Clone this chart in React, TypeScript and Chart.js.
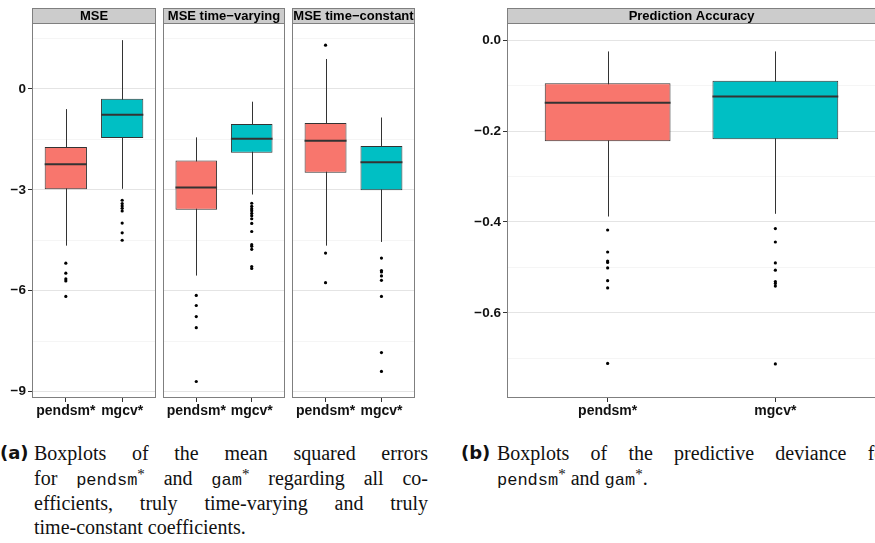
import React, { useEffect, useRef } from 'react';
import { Chart, registerables } from 'chart.js';

Chart.register(...registerables);

const METHODS = ['pendsm*', 'mgcv*'];
const FILL_COLORS = ['#F8766D', '#00BFC4'];

// Five-number summaries: [lower whisker, Q1, median, Q3, upper whisker]
const MSE_ALL_PENDSM = [-4.66, -2.98, -2.24, -1.73, -0.6];
const MSE_ALL_MGCV = [-2.97, -1.46, -0.77, -0.29, 1.45];
const MSE_ALL_PENDSM_OUT = [-5.18, -5.48, -5.65, -5.71, -6.17];
const MSE_ALL_MGCV_OUT = [-3.31, -3.41, -3.48, -3.55, -3.63, -3.99, -4.28, -4.5];

const MSE_TV_PENDSM = [-5.55, -3.59, -2.93, -2.13, -1.44];
const MSE_TV_MGCV = [-3.14, -1.9, -1.48, -1.04, -0.38];
const MSE_TV_PENDSM_OUT = [-6.14, -6.44, -6.77, -7.1, -8.7];
const MSE_TV_MGCV_OUT = [-3.4, -3.49, -3.56, -3.62, -3.7, -3.77, -3.86, -4.0, -4.24, -4.63, -4.68, -4.77, -5.28, -5.34];

const MSE_TC_PENDSM = [-4.66, -2.49, -1.54, -1.01, 0.89];
const MSE_TC_MGCV = [-4.55, -3.01, -2.18, -1.7, -0.85];
const MSE_TC_PENDSM_OUT = [1.3, -4.88, -5.76];
const MSE_TC_MGCV_OUT = [-5.03, -5.4, -5.44, -5.56, -5.69, -6.17, -7.84, -8.4];

const PRED_PENDSM = [-0.388, -0.2227, -0.1376, -0.0948, -0.025];
const PRED_MGCV = [-0.382, -0.218, -0.124, -0.0897, -0.025];
const PRED_PENDSM_OUT = [-0.4176, -0.466, -0.486, -0.489, -0.501, -0.529, -0.545, -0.711];
const PRED_MGCV_OUT = [-0.4146, -0.444, -0.49, -0.506, -0.531, -0.535, -0.541, -0.712];

const MSE_RANGE: [number, number] = [-9.19, 1.96];
const PRED_RANGE: [number, number] = [-0.787, 0.0375];
const MSE_MAJOR_TICKS = [0, -3, -6, -9];
const MSE_MINOR_TICKS = [1.5, -1.5, -4.5, -7.5];
const PRED_MAJOR_TICKS = [0, -0.2, -0.4, -0.6];
const PRED_MINOR_TICKS = [-0.1, -0.3, -0.5, -0.7];

const FACET_TITLES = ['MSE', 'MSE time−varying', 'MSE time−constant'];
const PRED_TITLE = 'Prediction Accuracy';

const SANS = '"Liberation Sans", Arial, Helvetica, sans-serif';
const SERIF = '"Liberation Serif", "Times New Roman", serif';
const MONO = '"Liberation Mono", "DejaVu Sans Mono", monospace';

const CANVAS_H = 420;
const STRIP_TOP = 8;
const AREA_TOP = 23;
const AREA_BOTTOM = 398;

const fmtInt = (v: number) => (v < 0 ? '−' + Math.abs(v) : String(v));
const fmtDec = (v: number) => (v < 0 ? '−' : '') + Math.abs(v).toFixed(1);

type Geometry = { left: number; width: number; padLeft: number; padRight: number; axisWidth: number };

type PanelProps = {
  title: string;
  stats: number[][];
  outliers: number[][];
  yRange: [number, number];
  major: number[];
  minor: number[];
  format: (v: number) => string;
  showY: boolean;
  geo: Geometry;
};

function BoxPanel(p: PanelProps) {
  const ref = useRef<HTMLCanvasElement>(null);

  useEffect(() => {
    const canvas = ref.current;
    if (!canvas) return;
    const isMajor = (v: number) => p.major.some((m) => Math.abs(m - v) < 1e-9);
    const tickValues = [...p.major, ...p.minor].sort((a, b) => b - a);

    const boxData = p.stats.map((s, i) => ({ x: i + 1, y: [s[1], s[3]] }));
    const outlierData = p.outliers.flatMap((vals, i) => vals.map((v) => ({ x: i + 1, y: v })));

    // whiskers underneath the boxes, medians on top of them
    const boxplot = {
      id: 'boxplotParts',
      beforeDatasetsDraw(chart: any) {
        const { ctx } = chart;
        const y = chart.scales.y;
        const bars = chart.getDatasetMeta(0).data;
        ctx.save();
        ctx.strokeStyle = '#333333';
        ctx.lineWidth = 1;
        bars.forEach((bar: any, i: number) => {
          const s = p.stats[i];
          const x = Math.round(bar.x) + 0.5;
          ctx.beginPath();
          ctx.moveTo(x, y.getPixelForValue(s[0]));
          ctx.lineTo(x, y.getPixelForValue(s[4]));
          ctx.stroke();
        });
        ctx.restore();
      },
      afterDatasetsDraw(chart: any) {
        const { ctx } = chart;
        const y = chart.scales.y;
        const bars = chart.getDatasetMeta(0).data;
        ctx.save();
        ctx.strokeStyle = '#333333';
        ctx.lineWidth = 2;
        bars.forEach((bar: any, i: number) => {
          const yy = y.getPixelForValue(p.stats[i][2]);
          ctx.beginPath();
          ctx.moveTo(bar.x - bar.width / 2, yy);
          ctx.lineTo(bar.x + bar.width / 2, yy);
          ctx.stroke();
        });
        ctx.restore();
      },
    };

    // panel border and facet strip
    const facetFrame = {
      id: 'facetFrame',
      afterDraw(chart: any) {
        const { ctx, chartArea: a } = chart;
        ctx.save();
        ctx.fillStyle = '#cccccc';
        ctx.fillRect(a.left, STRIP_TOP, a.right - a.left, a.top - STRIP_TOP);
        ctx.strokeStyle = '#7f7f7f';
        ctx.lineWidth = 1;
        ctx.strokeRect(a.left + 0.5, STRIP_TOP + 0.5, a.right - a.left - 1, a.top - STRIP_TOP);
        ctx.strokeRect(a.left + 0.5, a.top + 0.5, a.right - a.left - 1, a.bottom - a.top - 1);
        ctx.fillStyle = '#000000';
        ctx.font = `bold 13px ${SANS}`;
        ctx.textAlign = 'center';
        ctx.textBaseline = 'middle';
        ctx.fillText(p.title, (a.left + a.right) / 2, (STRIP_TOP + a.top) / 2 + 1);
        ctx.restore();
      },
    };

    const chart = new Chart(canvas, {
      type: 'bar',
      data: {
        datasets: [
          {
            type: 'bar',
            data: boxData as any,
            backgroundColor: FILL_COLORS,
            borderColor: '#333333',
            borderWidth: 1,
            borderSkipped: false,
            barPercentage: 0.75,
            categoryPercentage: 1,
            grouped: false,
            order: 2,
          } as any,
          {
            type: 'scatter',
            data: outlierData,
            pointRadius: 1.6,
            pointBackgroundColor: '#000000',
            pointBorderWidth: 0,
            order: 1,
          } as any,
        ],
      },
      options: {
        animation: false,
        responsive: false,
        events: [],
        layout: { padding: { top: AREA_TOP, left: p.geo.padLeft, right: p.geo.padRight, bottom: 0 } },
        plugins: { legend: { display: false }, tooltip: { enabled: false }, title: { display: false } },
        scales: {
          x: {
            type: 'linear',
            min: 0.4,
            max: 2.6,
            offset: false,
            afterBuildTicks: (s: any) => {
              s.ticks = METHODS.map((_, i) => ({ value: i + 1 }));
            },
            afterFit: (s: any) => {
              s.height = CANVAS_H - AREA_BOTTOM;
            },
            ticks: {
              callback: (v: any) => METHODS[Math.round(v) - 1],
              font: { family: SANS, size: 14, weight: 'bold' },
              color: '#111111',
              padding: 1,
              maxRotation: 0,
              autoSkip: false,
            },
            grid: { offset: false, drawOnChartArea: false, tickLength: 4, tickColor: '#333333' },
            border: { display: false },
          },
          y: {
            type: 'linear',
            min: p.yRange[0],
            max: p.yRange[1],
            afterBuildTicks: (s: any) => {
              s.ticks = tickValues.map((v) => ({ value: v }));
            },
            afterFit: (s: any) => {
              s.width = p.geo.axisWidth;
            },
            ticks: {
              display: p.showY,
              callback: (v: any) => (isMajor(v) ? p.format(v) : ''),
              font: { family: SANS, size: 13.5, weight: 'bold' },
              color: '#111111',
              padding: 2,
              autoSkip: false,
            },
            grid: {
              color: (c: any) => (isMajor(c.tick.value) ? '#e4e4e4' : '#f5f5f5'),
              tickColor: (c: any) => (isMajor(c.tick.value) ? '#333333' : 'rgba(0,0,0,0)'),
              tickLength: 4,
              drawTicks: p.showY,
              lineWidth: 1,
            },
            border: { display: false },
          },
        },
      } as any,
      plugins: [boxplot, facetFrame],
    });
    return () => chart.destroy();
  }, []);

  return (
    <canvas
      ref={ref}
      width={p.geo.width}
      height={CANVAS_H}
      style={{ position: 'absolute', left: p.geo.left, top: 0, width: p.geo.width, height: CANVAS_H, display: 'block' }}
    />
  );
}

const lineStyle = (left: number, top: number, justify: boolean): React.CSSProperties => ({
  position: 'absolute',
  left,
  top,
  width: 394,
  fontFamily: SERIF,
  fontSize: 20,
  lineHeight: '24px',
  color: '#111111',
  whiteSpace: 'nowrap',
  textAlign: justify ? 'justify' : 'left',
  textAlignLast: justify ? 'justify' : 'auto',
});

const labelStyle = (left: number, top: number): React.CSSProperties => ({
  position: 'absolute',
  left,
  top,
  fontFamily: '"DejaVu Sans", sans-serif',
  fontWeight: 'bold',
  fontSize: 18,
  lineHeight: '24px',
  color: '#111111',
});

const Tt = ({ children }: { children: string }) => (
  <span style={{ fontFamily: MONO, fontSize: 17 }}>{children}</span>
);
const Star = () => <span style={{ position: 'relative', top: -6, fontSize: 15 }}>*</span>;

export default function App() {
  const lines = [441, 466, 490.5, 515];
  return (
    <div
      style={{
        position: 'absolute',
        left: 0,
        top: 0,
        width: 875,
        height: 543,
        overflow: 'hidden',
        background: '#ffffff',
      }}
    >
      <BoxPanel
        title={FACET_TITLES[0]}
        stats={[MSE_ALL_PENDSM, MSE_ALL_MGCV]}
        outliers={[MSE_ALL_PENDSM_OUT, MSE_ALL_MGCV_OUT]}
        yRange={MSE_RANGE}
        major={MSE_MAJOR_TICKS}
        minor={MSE_MINOR_TICKS}
        format={fmtInt}
        showY={true}
        geo={{ left: 0, width: 160, padLeft: 0, padRight: 2, axisWidth: 32 }}
      />
      <BoxPanel
        title={FACET_TITLES[1]}
        stats={[MSE_TV_PENDSM, MSE_TV_MGCV]}
        outliers={[MSE_TV_PENDSM_OUT, MSE_TV_MGCV_OUT]}
        yRange={MSE_RANGE}
        major={MSE_MAJOR_TICKS}
        minor={MSE_MINOR_TICKS}
        format={fmtInt}
        showY={false}
        geo={{ left: 159, width: 130, padLeft: 2, padRight: 2, axisWidth: 0 }}
      />
      <BoxPanel
        title={FACET_TITLES[2]}
        stats={[MSE_TC_PENDSM, MSE_TC_MGCV]}
        outliers={[MSE_TC_PENDSM_OUT, MSE_TC_MGCV_OUT]}
        yRange={MSE_RANGE}
        major={MSE_MAJOR_TICKS}
        minor={MSE_MINOR_TICKS}
        format={fmtInt}
        showY={false}
        geo={{ left: 288, width: 131, padLeft: 2, padRight: 2, axisWidth: 0 }}
      />
      <BoxPanel
        title={PRED_TITLE}
        stats={[PRED_PENDSM, PRED_MGCV]}
        outliers={[PRED_PENDSM_OUT, PRED_MGCV_OUT]}
        yRange={PRED_RANGE}
        major={PRED_MAJOR_TICKS}
        minor={PRED_MINOR_TICKS}
        format={fmtDec}
        showY={true}
        geo={{ left: 440, width: 440, padLeft: 0, padRight: 2, axisWidth: 67 }}
      />

      <div style={labelStyle(0, lines[0])}>(a)</div>
      <div style={lineStyle(34, lines[0], true)}>Boxplots of the mean squared errors</div>
      <div style={lineStyle(34, lines[1], true)}>
        for <Tt>pendsm</Tt>
        <Star /> and <Tt>gam</Tt>
        <Star /> regarding all co-
      </div>
      <div style={lineStyle(34, lines[2], true)}>efficients, truly time-varying and truly</div>
      <div style={lineStyle(34, lines[3], false)}>time-constant coefficients.</div>

      <div style={labelStyle(461, lines[0])}>(b)</div>
      <div style={lineStyle(497, lines[0], true)}>Boxplots of the predictive deviance for</div>
      <div style={lineStyle(497, lines[1], false)}>
        <Tt>pendsm</Tt>
        <Star /> and <Tt>gam</Tt>
        <Star />.
      </div>
    </div>
  );
}
